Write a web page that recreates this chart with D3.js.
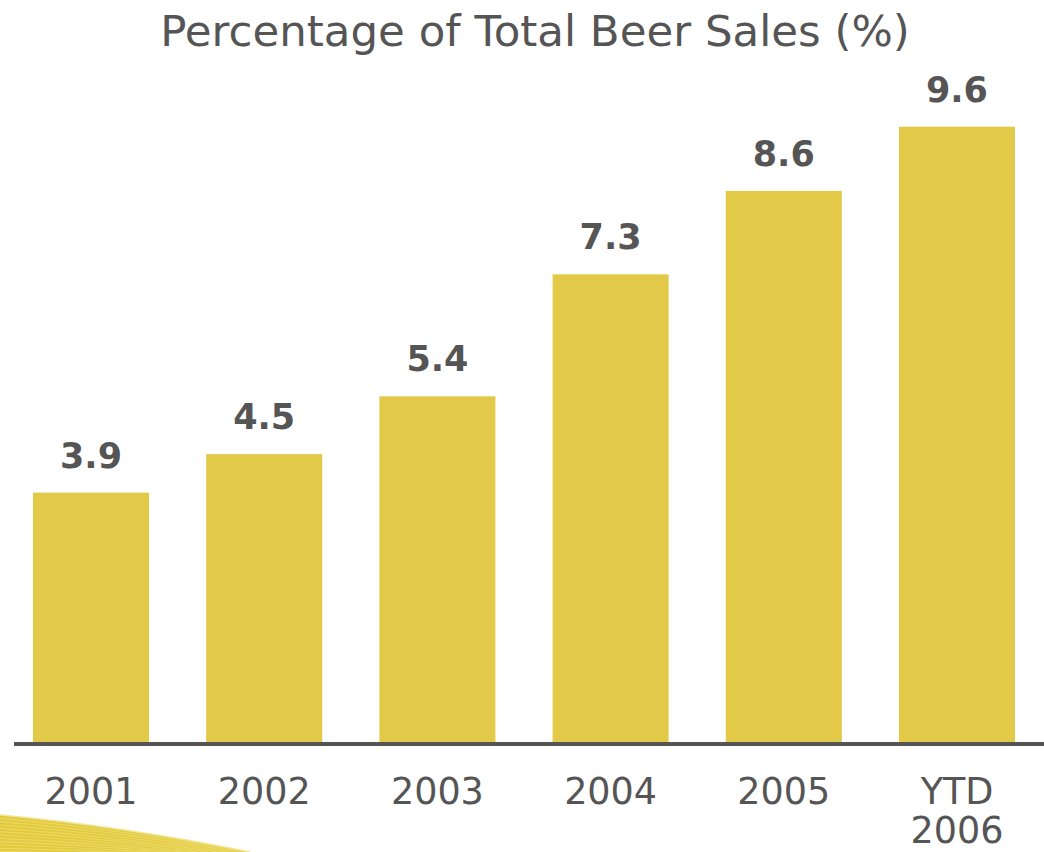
<!DOCTYPE html>
<html>
<head>
<meta charset="utf-8">
<script src="https://cdn.jsdelivr.net/npm/d3@7"></script>
<style>
  html, body { margin: 0; padding: 0; background: #fff; }
  svg { display: block; }
</style>
</head>
<body>
<svg id="chart" width="1044" height="852"></svg>
<script>
// Share of total beer sales by year
const categories = ["2001", "2002", "2003", "2004", "2005", "YTD 2006"];
const values = [3.9, 4.5, 5.4, 7.3, 8.6, 9.6];
const valueLabels = ["3.9", "4.5", "5.4", "7.3", "8.6", "9.6"];
const title = "Percentage of Total Beer Sales (%)";

const W = 1044, H = 852;
const svg = d3.select("#chart");
const textColor = "#555555";
const barColor = "#E3C948";
const font = "'DejaVu Sans', Verdana, sans-serif";

// decorative striped swoosh in the lower-left corner
const swoosh = svg.append("g");
swoosh.append("path")
  .attr("d", "M0,815 Q120,826 250,852 L0,852 Z")
  .attr("fill", "#E2CA3C");
const nStripes = 12;
for (let i = 1; i <= nStripes; i++) {
  const t = i / nStripes;
  const y0 = 815 + t * 40;
  const x1 = 250 - t * 60;
  swoosh.append("path")
    .attr("d", `M0,${y0} Q${x1 * 0.48},${y0 + 11 * (1 - t)} ${x1},${852 + t * 6}`)
    .attr("fill", "none")
    .attr("stroke", "#EEDC6E")
    .attr("stroke-width", 1.2)
    .attr("opacity", 0.8);
}
swoosh.append("path")
  .attr("d", "M0,815 Q120,826 250,852")
  .attr("fill", "none")
  .attr("stroke", "#F1E493")
  .attr("stroke-width", 1.5);

const baseline = 743;

const x = d3.scaleBand()
  .domain(categories)
  .range([33, 1015])
  .paddingInner(0.33)
  .paddingOuter(0);

const y = d3.scaleLinear()
  .domain([0, 10])
  .range([baseline, baseline - 642]);

// bars
svg.append("g").selectAll("rect")
  .data(values)
  .join("rect")
  .attr("x", (d, i) => x(categories[i]))
  .attr("y", d => y(d))
  .attr("width", x.bandwidth())
  .attr("height", d => baseline - y(d))
  .attr("fill", barColor);

// value labels
svg.append("g").selectAll("text")
  .data(values)
  .join("text")
  .attr("x", (d, i) => x(categories[i]) + x.bandwidth() / 2)
  .attr("y", d => y(d) - 25)
  .attr("text-anchor", "middle")
  .attr("font-family", font)
  .attr("font-weight", "bold")
  .attr("font-size", 35)
  .attr("fill", textColor)
  .text((d, i) => valueLabels[i]);

// baseline axis
const axis = d3.axisBottom(x).tickSize(0).tickPadding(0).tickFormat("");
const axisG = svg.append("g").attr("transform", `translate(0,${baseline})`).call(axis);
axisG.select(".domain").remove();
axisG.append("line")
  .attr("x1", 14).attr("x2", W)
  .attr("y1", 1).attr("y2", 1)
  .attr("stroke", textColor)
  .attr("stroke-width", 4);

// category labels (multi-line where needed)
const catG = svg.append("g");
categories.forEach(c => {
  const cx = x(c) + x.bandwidth() / 2;
  const words = c.split(" ");
  const t = catG.append("text")
    .attr("x", cx)
    .attr("y", 804)
    .attr("text-anchor", "middle")
    .attr("font-family", font)
    .attr("font-size", 36.5)
    .attr("fill", textColor);
  words.forEach((w, j) => {
    t.append("tspan")
      .attr("x", cx)
      .attr("dy", j === 0 ? 0 : 39)
      .text(w);
  });
});

// title
svg.append("text")
  .attr("x", 535)
  .attr("y", 46)
  .attr("text-anchor", "middle")
  .attr("font-family", font)
  .attr("font-size", 43.5)
  .attr("fill", textColor)
  .text(title);
</script>
</body>
</html>
